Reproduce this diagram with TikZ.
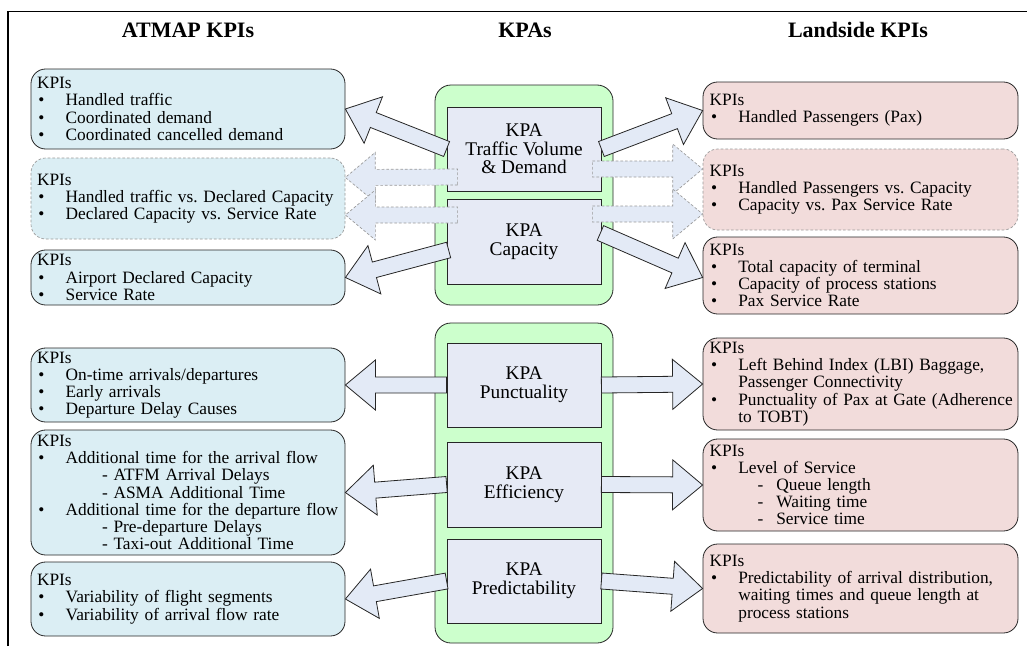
\documentclass[tikz,border=0pt]{standalone}
\usepackage{fontspec}
\setmainfont{Liberation Serif}
\usetikzlibrary{positioning, calc}

\definecolor{atmapfill}{HTML}{DBEEF4}
\definecolor{landfill}{HTML}{F2DCDB}
\definecolor{kpagreen}{HTML}{CCFFCC}
\definecolor{kpafill}{HTML}{E6EAF5}
\definecolor{arrowfill}{HTML}{E3EAF6}

\tikzset{
  kpibox/.style={draw=black!85, rounded corners=11pt, line width=0.6pt, align=left, inner ysep=1pt, font=\fontsize{13}{12.9}\selectfont},
  atmap/.style={kpibox, fill=atmapfill, text width=226.5pt, inner xsep=4.5pt},
  landside/.style={kpibox, fill=landfill, text width=226.25pt, inner xsep=5pt},
  soft/.style={draw=black!40, dash pattern=on 2pt off 1.5pt, line width=0.5pt},
  kpagroup/.style={draw=black!85, fill=kpagreen, rounded corners=12pt, minimum width=133.5pt, line width=0.6pt},
  kpa/.style={draw=black!85, fill=kpafill, minimum width=115.5pt, line width=0.6pt, align=center, font=\fontsize{14.5}{14}\selectfont},
  bigarrow/.style={draw=black!85, fill=arrowfill, line width=0.6pt, line join=miter},
  header/.style={font=\fontsize{16.5}{18}\selectfont\bfseries}
}

% bullet, continuation and sub item
\newcommand{\kb}{\makebox[21.5pt][l]{\hspace{1pt}\textbullet}}
\newcommand{\kc}{\hspace*{21.5pt}}
\newcommand{\ks}{\hspace*{36pt}\makebox[14pt][l]{-}}

% block arrow from tail to tip
\newcommand{\kpiarrow}[3][]{%
  \filldraw[bigarrow,#1] let \p1=(#2), \p2=(#3), \p3=($(\p2)!22.5pt!(\p1)$) in
    ($(\p1)!6pt!90:(\p2)$) -- ($(\p3)!6pt!90:(\p2)$) -- ($(\p3)!18.75pt!90:(\p2)$) -- (\p2)
    -- ($(\p3)!18.75pt!-90:(\p2)$) -- ($(\p3)!6pt!-90:(\p2)$) -- ($(\p1)!6pt!-90:(\p2)$) -- cycle;}

\begin{document}
\frenchspacing
\begin{tikzpicture}[x=0.75pt, y=-0.75pt]
    \useasboundingbox (0,0) rectangle (1027,646);
    \draw[line width=0.8pt] (8,646) -- (8,11.5) -- (1027,11.5);

    \node[header] (hatmap) at (188,30) {ATMAP KPIs};
    \node[header] (hkpa) at (525,30) {KPAs};
    \node[header] (hland) at (858,30) {Landside KPIs};

    % ATMAP side
    \node[atmap, minimum height=60pt] (l1) at (188,109) {KPIs\\\kb Handled traffic\\\kb Coordinated demand\\\kb Coordinated cancelled demand};
    \node[atmap, soft, minimum height=60.75pt] (l2) at (188,198.5) {KPIs\\\kb Handled traffic vs. Declared Capacity\\\kb Declared Capacity vs. Service Rate};
    \node[atmap, minimum height=41.25pt] (l3) at (188,277.5) {KPIs\\\kb Airport Declared Capacity\\\kb Service Rate};
    \node[atmap, minimum height=55.5pt] (l4) at (188,385) {KPIs\\\kb On-time arrivals/departures\\\kb Early arrivals\\\kb Departure Delay Causes};
    \node[atmap, minimum height=93.75pt] (l5) at (188,492.5) {KPIs\\\kb Additional time for the arrival flow\\\hspace*{48.75pt}- ATFM Arrival Delays\\\hspace*{48.75pt}- ASMA Additional Time\\\kb \mbox{Additional time for the departure flow}\\\hspace*{48.75pt}- Pre-departure Delays\\\hspace*{48.75pt}- Taxi-out Additional Time};
    \node[atmap, minimum height=55.5pt] (l6) at (188,599) {KPIs\\\kb Variability of flight segments\\\kb Variability of arrival flow rate};

    % Landside
    \node[landside, minimum height=42.75pt] (r1) at (860.5,110.5) {KPIs\\\kb Handled Passengers (Pax)};
    \node[landside, soft, minimum height=60.75pt] (r2) at (860.5,189.5) {KPIs\\\kb Handled Passengers vs. Capacity\\\kb Capacity vs. Pax Service Rate};
    \node[landside, minimum height=57.75pt] (r3) at (860.5,275.5) {KPIs\\\kb Total capacity of terminal\\\kb Capacity of process stations\\\kb Pax Service Rate};
    \node[landside, minimum height=69pt] (r4) at (860.5,384) {KPIs\\\kb Left Behind Index (LBI) Baggage,\\\kc Passenger Connectivity\\\kb \mbox{Punctuality of Pax at Gate (Adherence}\\\kc to TOBT)};
    \node[landside, minimum height=69pt] (r5) at (860.5,485) {KPIs\\\kb Level of Service\\\ks Queue length\\\ks Waiting time\\\ks Service time};
    \node[landside, minimum height=66.75pt] (r6) at (860.5,588.5) {KPIs\\\kb \mbox{Predictability of arrival distribution,}\\\kc waiting times and queue length at\\\kc process stations};

    % KPAs
    \node[kpagroup, minimum height=165pt] (g1) at (524,195) {};
    \node[kpagroup, minimum height=240pt] (g2) at (524,483) {};
    \node[kpa, minimum height=63pt] (k1) at (524,149) {KPA\\Traffic Volume\\\& Demand};
    \node[kpa, minimum height=63.75pt] (k2) at (524,241.5) {KPA\\Capacity};
    \node[kpa, minimum height=63pt] (k3) at (524,385) {KPA\\Punctuality};
    \node[kpa, minimum height=63.75pt] (k4) at (524,484.5) {KPA\\Efficiency};
    \node[kpa, minimum height=63pt] (k5) at (524,581) {KPA\\Predictability};

    \kpiarrow{k1.west}{l1.east}
    \kpiarrow[soft]{$(k1.west)+(11,28)$}{$(l2.east)+(0,-21)$}
    \kpiarrow[soft]{$(k2.west)+(11,-26.5)$}{$(l2.east)+(0,16.5)$}
    \kpiarrow{$(k2.west)+(2,8.5)$}{l3.east}
    \kpiarrow{k1.east}{r1.west}
    \kpiarrow[soft]{$(k1.east)+(-9,20)$}{$(r2.west)+(0,-20.5)$}
    \kpiarrow[soft]{$(k2.east)+(-9,-27.5)$}{$(r2.west)+(0,24.5)$}
    \kpiarrow{$(k2.east)+(-1,-8.5)$}{$(r3.west)+(0,2)$}
    \kpiarrow{k3.west}{l4.east}
    \kpiarrow{k4.west}{l5.east}
    \kpiarrow{k5.west}{l6.east}
    \kpiarrow{k3.east}{r4.west}
    \kpiarrow{k4.east}{r5.west}
    \kpiarrow{k5.east}{r6.west}
\end{tikzpicture}
\end{document}
